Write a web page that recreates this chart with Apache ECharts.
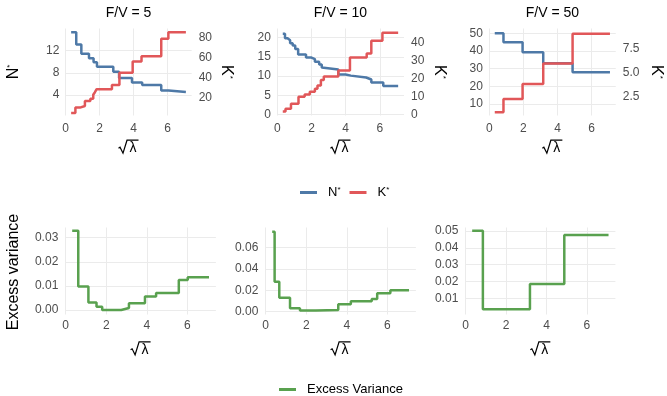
<!DOCTYPE html>
<html><head><meta charset="utf-8">
<script src="https://cdn.jsdelivr.net/npm/echarts@6/dist/echarts.min.js"></script>
<style>html,body{margin:0;padding:0;background:#fff}#c{width:667px;height:396px}</style>
</head><body><div id="c"></div>
<script>
// ---------- data (x = sqrt(lambda), step breakpoints) ----------
const panelTitles = ['F/V = 5', 'F/V = 10', 'F/V = 50'];
const seriesNames = ['N*', 'K*', 'Excess Variance'];

const nStar_fv5 = [[0.32,15.3],[0.62,13.1],[0.92,11.4],[1.37,10.6],[1.64,9.9],[1.84,9.1],[2.8,8.2],[3.14,7.05],[3.9,6.25],[4.5,5.8],[5.62,4.8],[6.05,4.55],[7.07,4.55]];
const kStar_fv5 = [[0.32,4.2],[0.57,9.6],[0.84,11.2],[1.13,16.2],[1.45,18.5],[1.62,22.5],[1.72,25],[1.82,28],[2.72,32.2],[3.16,44.4],[3.94,55.7],[4.46,61],[5.62,78.6],[6.04,85],[7.07,85]];

const nStar_fv10 = [[0.32,21.0],[0.45,19.8],[0.6,19.3],[0.75,18.5],[0.9,17.9],[1.05,17.0],[1.22,15.6],[1.68,14.8],[2.0,14.4],[2.2,13.7],[2.45,13.0],[2.6,12.2],[2.7,11.7],[3.57,10.4],[4.0,10.1],[4.3,9.6],[5.2,9.1],[5.5,8.3],[6.2,7.4],[7.07,7.4]];
const kStar_fv10 = [[0.32,1.6],[0.48,3.2],[0.8,5.9],[1.24,9.8],[1.6,11.1],[1.9,12.6],[2.2,14.2],[2.35,16],[2.55,19.1],[2.72,21],[3.57,24.3],[4.25,31.5],[5.23,33.8],[5.5,40.8],[6.15,45.2],[7.07,45.2]];

const nStar_fv50 = [[0.32,50],[0.83,44.9],[1.95,39.2],[3.16,33.0],[4.88,27.9],[7.07,27.9]];
const kStar_fv50 = [[0.32,0.96],[0.83,2.3],[1.95,3.85],[3.16,5.95],[4.88,9.0],[7.07,9.0]];

const excess_fv5  = [[0.32,0.0329],[0.62,0.0097],[1.12,0.0031],[1.52,0.0013],[1.8,0.0],[2.74,0.0008],[3.12,0.0028],[3.91,0.0056],[4.46,0.007],[5.58,0.0124],[6.02,0.0136],[7.07,0.0136]];
const excess_fv10 = [[0.32,0.075],[0.44,0.0281],[0.67,0.0131],[1.2,0.0032],[1.69,0.0012],[2.48,0.0016],[3.58,0.0069],[4.2,0.0097],[5.23,0.0119],[5.5,0.0172],[6.15,0.020],[7.07,0.020]];
const excess_fv50 = [[0.32,0.0502],[0.85,0.0035],[3.18,0.0185],[4.88,0.0476],[7.07,0.0476]];

// ---------- scales ----------
const xRange = [-0.02, 7.41], xStep = 2;
const nRanges = [[0.31,15.96],[-0.26,22.34],[3.43,52.7]], nSteps = [4,5,10];
const kRatio = [5.56, 2.13, 0.181], kSteps = [20,10,2.5], kDecimals = [0,0,1];
const evRanges = [[-0.00187,0.03423],[-0.0026,0.0789],[0.00037,0.0521]], evSteps = [0.01,0.02,0.01];

// ---------- layout / style ----------
const FONT = '"Liberation Sans", Arial, sans-serif';
const C_N = '#4E79A7', C_K = '#E15759', C_EV = '#59A14F';
const TXT = '#4D4D4D', GRID = '#EBEBEB';
const LW = 2.5;
const topGrids = [{left:65.36,width:126.3},{left:276.96,width:127.0},{left:488.96,width:126.8}];
const botGrids = [{left:65.3,width:150.6},{left:265.3,width:150.6},{left:465.3,width:150.1}];

const grid = [];
topGrids.forEach(g => grid.push({left:g.left, width:g.width, top:28.5, height:87, containLabel:false, outerBoundsMode:'none'}));
botGrids.forEach(g => grid.push({left:g.left, width:g.width, top:227.5, height:87, containLabel:false, outerBoundsMode:'none'}));

const lbl = (extra) => Object.assign({showMinLabel:false, showMaxLabel:false, color:TXT, fontSize:12, fontFamily:FONT}, extra);
const split = {show:true, showMinLine:false, showMaxLine:false, lineStyle:{color:GRID, width:1}};
const noLine = {show:false};

const xAxis = [];
for (let i = 0; i < 6; i++) {
  xAxis.push({type:'value', gridIndex:i, min:xRange[0], max:xRange[1], minInterval:xStep, maxInterval:xStep,
    axisLine:noLine, axisTick:noLine, axisLabel:lbl({margin: i < 3 ? 7 : 5}), splitLine:split});
}
const yAxis = [];
for (let i = 0; i < 3; i++) {
  yAxis.push({type:'value', gridIndex:i, position:'left', min:nRanges[i][0], max:nRanges[i][1],
    minInterval:nSteps[i], maxInterval:nSteps[i], axisLine:noLine, axisTick:noLine,
    axisLabel:lbl({margin:6}), splitLine:split});
}
for (let i = 0; i < 3; i++) {
  yAxis.push({type:'value', gridIndex:i, position:'right', min:nRanges[i][0]*kRatio[i], max:nRanges[i][1]*kRatio[i],
    minInterval:kSteps[i], maxInterval:kSteps[i], axisLine:noLine, axisTick:noLine,
    axisLabel:lbl({margin:7, formatter: v => v.toFixed(kDecimals[i])}), splitLine:{show:false}});
}
for (let i = 0; i < 3; i++) {
  yAxis.push({type:'value', gridIndex:3+i, position:'left', min:evRanges[i][0], max:evRanges[i][1],
    minInterval:evSteps[i], maxInterval:evSteps[i], axisLine:noLine, axisTick:noLine,
    axisLabel:lbl({margin:7, formatter: v => v.toFixed(2)}), splitLine:split});
}

const nData = [nStar_fv5, nStar_fv10, nStar_fv50];
const kData = [kStar_fv5, kStar_fv10, kStar_fv50];
const evData = [excess_fv5, excess_fv10, excess_fv50];
const line = (name, xi, yi, data, color) => ({type:'line', name, xAxisIndex:xi, yAxisIndex:yi, data, step:'end',
  symbol:'none', showSymbol:false, silent:true, animation:false, lineStyle:{width:LW, color}, itemStyle:{color}});
const series = [];
for (let i = 0; i < 3; i++) {
  series.push(line(seriesNames[0], i, i, nData[i], C_N));
  series.push(line(seriesNames[1], i, 3+i, kData[i], C_K));
}
for (let i = 0; i < 3; i++) series.push(line(seriesNames[2], 3+i, 6+i, evData[i], C_EV));

const supRich = {sup:{fontSize:8, verticalAlign:'top', fontFamily:FONT, color:'#000'}};
const txt = (x, y, text, size, rot, color) => ({type:'text', x, y, rotation: rot || 0, silent:true,
  style:{text, fontSize:size, fontFamily:FONT, fill: color || '#000', align:'center', verticalAlign:'middle', rich:supRich}});
// sqrt(lambda) axis title: radical drawn as a polyline + lambda glyph
const sqrtLambda = (x, y) => ({type:'group', x, y, silent:true, children:[
  {type:'polyline', shape:{points:[[-10,1.5],[-8.5,0.5],[-5.5,6.5],[-1.5,-6.5],[10,-6.5]]}, style:{stroke:'#000', lineWidth:1.2, fill:null}},
  {type:'text', x:4.5, y:1.5, style:{text:'\u03BB', fontSize:14, fontFamily:FONT, fill:'#000', align:'center', verticalAlign:'middle'}}
]});

const graphic = [];
const topCenters = topGrids.map(g => g.left + g.width/2);
const botCenters = botGrids.map(g => g.left + g.width/2);
panelTitles.forEach((t, i) => graphic.push(txt(topCenters[i], 13.5, t, 14)));
topCenters.forEach(c => graphic.push(sqrtLambda(c, 146.7)));
botCenters.forEach(c => graphic.push(sqrtLambda(c, 348.3)));
graphic.push(txt(14, 72, 'N{sup|*}', 16, Math.PI/2));
[226, 439, 656].forEach(x => graphic.push(txt(x, 72, 'K{sup|*}', 16, -Math.PI/2)));
graphic.push(txt(14, 272, 'Excess variance', 16, Math.PI/2));

const legendText = {fontSize:13, color:'#000', fontFamily:FONT, padding:[0,0,0,6], rich:{sup:{fontSize:8, verticalAlign:'top', fontFamily:FONT, color:'#000'}}};
const legend = [
  {data:[seriesNames[0], seriesNames[1]], left:300, top:186, padding:0, icon:'rect', itemWidth:17, itemHeight:3, itemGap:9,
   textStyle:legendText, formatter: n => n.replace('*', '{sup|*}'), selectedMode:false},
  {data:[seriesNames[2]], left:279, top:383, padding:0, icon:'rect', itemWidth:17, itemHeight:3,
   textStyle:legendText, selectedMode:false}
];

const chart = echarts.init(document.getElementById('c'), null, {renderer:'canvas'});
chart.setOption({backgroundColor:'#fff', animation:false, textStyle:{fontFamily:FONT}, grid, xAxis, yAxis, series, legend, graphic});
</script></body></html>
